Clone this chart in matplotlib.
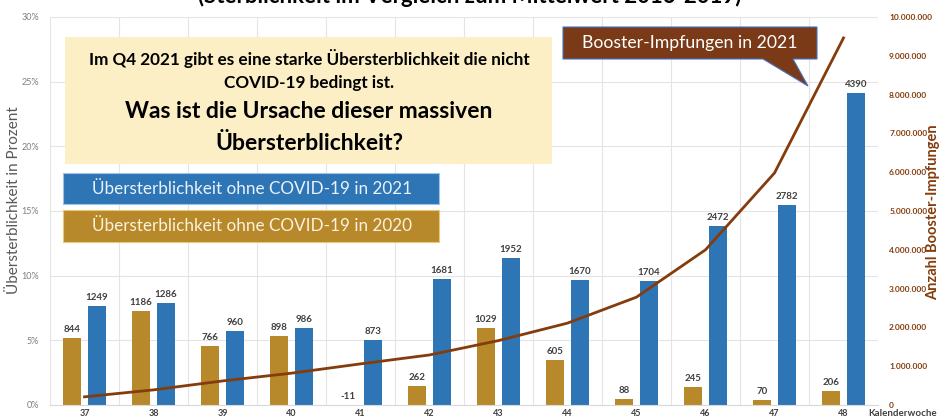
import matplotlib.pyplot as plt
import matplotlib.ticker as mtick
from matplotlib.patches import Rectangle, Polygon
import numpy as np

plt.rcParams['font.family'] = ['Lato', 'DejaVu Sans']

# Data
weeks = ['37', '38', '39', '40', '41', '42', '43', '44', '45', '46', '47', '48']
pct_2020 = [5.18, 7.26, 4.56, 5.33, -0.06, 1.47, 5.95, 3.48, 0.46, 1.39, 0.39, 1.08]
pct_2021 = [7.65, 7.88, 5.72, 5.95, 5.02, 9.74, 11.36, 9.66, 9.58, 13.83, 15.46, 24.1]
abs_2020 = [844, 1186, 766, 898, -11, 262, 1029, 605, 88, 245, 70, 206]
abs_2021 = [1249, 1286, 960, 986, 873, 1681, 1952, 1670, 1704, 2472, 2782, 4390]
booster = [0.21e6, 0.39e6, 0.62e6, 0.82e6, 1.06e6, 1.29e6, 1.66e6, 2.11e6,
           2.78e6, 4.0e6, 5.98e6, 9.46e6]

W, H = 939, 420
BLUE = '#2E75B6'
GOLD = '#B8892B'
BROWN = '#843C0C'
LABEL = '#404040'

fig = plt.figure(figsize=(W / 100, H / 100), dpi=100)
ax = fig.add_axes([50 / W, 15 / H, 828 / W, 388 / H])
x = np.arange(len(weeks))

ax.bar(x - 0.18, pct_2020, width=0.26, color=GOLD, zorder=2)
ax.bar(x + 0.18, pct_2021, width=0.26, color=BLUE, zorder=2)
for xi, p, a in zip(x, pct_2020, abs_2020):
    ax.annotate(str(a), (xi - 0.18, max(p, 0)), xytext=(0, 3), textcoords='offset points',
                ha='center', va='bottom', fontsize=7, fontweight='bold', color=LABEL)
for xi, p, a in zip(x, pct_2021, abs_2021):
    ax.annotate(str(a), (xi + 0.18, p), xytext=(0, 3), textcoords='offset points',
                ha='center', va='bottom', fontsize=7, fontweight='bold', color=LABEL)

ax.set_xlim(-0.5, len(weeks) - 0.5)
ax.set_ylim(0, 30)
ax.yaxis.set_major_locator(mtick.MultipleLocator(5))
ax.yaxis.set_major_formatter(mtick.PercentFormatter(decimals=0))
ax.set_xticks(x)
ax.set_xticklabels(weeks, fontsize=6.5, fontweight='bold', color=LABEL)
ax.set_xticks(np.arange(-0.5, len(weeks)), minor=True)
ax.grid(axis='y', color='#E4E4E4', lw=0.8, zorder=0)
ax.grid(axis='x', which='minor', color='#E4E4E4', lw=0.8, zorder=0)
ax.tick_params(axis='y', length=0, labelsize=6.5, labelcolor='#7F7F7F', pad=8)
ax.tick_params(axis='x', which='both', length=0, pad=3)
for s in ['top', 'right', 'left']:
    ax.spines[s].set_visible(False)
ax.spines['bottom'].set_color('#D9D9D9')

ax2 = ax.twinx()
ax2.plot(x, booster, color=BROWN, lw=2, zorder=3)
ax2.set_ylim(0, 10e6)
ax2.yaxis.set_major_locator(mtick.MultipleLocator(1e6))
ax2.yaxis.set_major_formatter(mtick.FuncFormatter(lambda v, p: f'{int(v):,}'.replace(',', '.')))
ax2.tick_params(axis='y', length=0, labelsize=6, labelcolor=BROWN, pad=8)
for t in ax2.get_yticklabels():
    t.set_fontweight('bold')
for s in ax2.spines.values():
    s.set_visible(False)


def fx(px):
    return px / W


def fy(py):
    return 1 - py / H


# title, its upper half runs off the top edge
fig.text(0.5, fy(3), '(Sterblichkeit im Vergleich zum Mittelwert 2016-2019)',
         ha='center', va='baseline', fontsize=16, fontweight='bold', color='black')

fig.text(fx(14), fy(200), 'Übersterblichkeit in Prozent', rotation=90, ha='center', va='center',
         fontsize=11, color='#595959')
fig.text(fx(933), fy(212), 'Anzahl Booster-Impfungen', rotation=90, ha='center', va='center',
         fontsize=10.5, fontweight='bold', color=BROWN)
fig.text(fx(868), fy(413), 'Kalenderwoche', ha='left', va='center',
         fontsize=7, fontweight='bold', color=LABEL)

# yellow question box
fig.add_artist(Rectangle((fx(65), fy(164)), fx(552) - fx(65), fy(37) - fy(164),
                         transform=fig.transFigure, facecolor='#FCEFC6', edgecolor='none'))
fig.text(fx(309), fy(58), 'Im Q4 2021 gibt es eine starke Übersterblichkeit die nicht',
         ha='center', va='center', fontsize=12.3, fontweight='bold')
fig.text(fx(309), fy(83), 'COVID-19 bedingt ist.', ha='center', va='center',
         fontsize=12.3, fontweight='bold')
fig.text(fx(309), fy(112), 'Was ist die Ursache dieser massiven', ha='center', va='center',
         fontsize=16.5, fontweight='bold')
fig.text(fx(309), fy(143), 'Übersterblichkeit?', ha='center', va='center',
         fontsize=16.5, fontweight='bold')

# legend-like boxes
fig.add_artist(Rectangle((fx(63), fy(204)), fx(439) - fx(63), fy(173) - fy(204),
                         transform=fig.transFigure, facecolor=BLUE, edgecolor='#9DC3E6', lw=0.8))
fig.text(fx(252), fy(189), 'Übersterblichkeit ohne COVID-19 in 2021', ha='center', va='center',
         fontsize=12.3, color='#EAF2FA')
fig.add_artist(Rectangle((fx(63), fy(242)), fx(439) - fx(63), fy(210) - fy(242),
                         transform=fig.transFigure, facecolor=GOLD, edgecolor='#E8C97A', lw=0.8))
fig.text(fx(252), fy(226), 'Übersterblichkeit ohne COVID-19 in 2020', ha='center', va='center',
         fontsize=12.3, color='#FBF1DC')

# booster callout
callout = [(563, 27), (817, 27), (817, 59), (793, 59), (808, 86), (763, 59), (563, 59)]
fig.add_artist(Polygon([(fx(a), fy(b)) for a, b in callout], closed=True,
                       transform=fig.transFigure, facecolor='#7B3A17', edgecolor='#4472C4', lw=0.8))
fig.text(fx(690), fy(43), 'Booster-Impfungen in 2021', ha='center', va='center',
         fontsize=12.7, color='white')

fig.savefig('out.png', dpi=100)
